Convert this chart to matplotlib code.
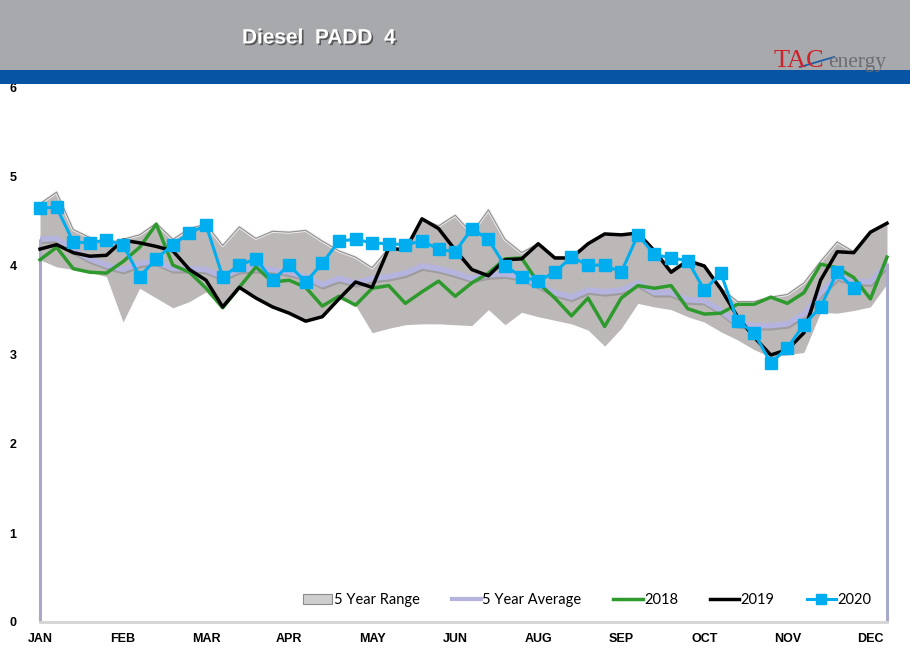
import numpy as np
import matplotlib.pyplot as plt
import matplotlib.patheffects as pe
from matplotlib.patches import Patch, Rectangle
from matplotlib.lines import Line2D

# weekly data, 52 weeks, labels every 5 weeks
month_labels = ['JAN', 'FEB', 'MAR', 'APR', 'MAY', 'JUN', 'AUG', 'SEP', 'OCT', 'NOV', 'DEC']

range_hi = [4.70, 4.83, 4.41, 4.32, 4.25, 4.30, 4.35, 4.48, 4.30, 4.42,
            4.47, 4.23, 4.44, 4.31, 4.39, 4.38, 4.40, 4.28, 4.17, 4.10,
            3.98, 4.20, 4.19, 4.53, 4.45, 4.57, 4.37, 4.63, 4.30, 4.15,
            4.25, 4.10, 4.10, 4.25, 4.36, 4.35, 4.37, 4.18, 3.95, 4.07,
            4.01, 3.75, 3.60, 3.60, 3.65, 3.68, 3.81, 4.05, 4.27, 4.16,
            4.38, 4.48]
range_lo = [4.07, 3.99, 3.96, 3.93, 3.88, 3.37, 3.75, 3.64, 3.53, 3.60,
            3.71, 3.53, 3.76, 3.64, 3.54, 3.47, 3.38, 3.43, 3.63, 3.56,
            3.25, 3.30, 3.34, 3.35, 3.35, 3.34, 3.33, 3.51, 3.34, 3.48,
            3.43, 3.39, 3.35, 3.28, 3.10, 3.30, 3.58, 3.54, 3.51, 3.43,
            3.37, 3.26, 3.17, 3.06, 2.98, 3.00, 3.03, 3.48, 3.47, 3.50,
            3.54, 3.80]
avg5 = [4.30, 4.31, 4.18, 4.08, 4.01, 3.96, 4.03, 4.05, 3.97, 3.97,
        3.96, 3.88, 3.96, 3.97, 3.96, 3.93, 3.88, 3.79, 3.86, 3.81,
        3.86, 3.88, 3.92, 4.00, 3.97, 3.92, 3.86, 3.90, 3.91, 3.88,
        3.79, 3.70, 3.65, 3.73, 3.71, 3.73, 3.81, 3.70, 3.70, 3.62,
        3.61, 3.50, 3.35, 3.33, 3.33, 3.35, 3.46, 3.70, 3.88, 3.83,
        3.82, 4.03]
y2018 = [4.07, 4.21, 3.97, 3.93, 3.92, 4.05, 4.21, 4.47, 4.01, 3.93,
         3.75, 3.53, 3.76, 3.99, 3.82, 3.84, 3.76, 3.55, 3.66, 3.56,
         3.75, 3.78, 3.58, 3.71, 3.83, 3.66, 3.81, 3.92, 4.08, 4.09,
         3.81, 3.64, 3.44, 3.64, 3.32, 3.64, 3.78, 3.75, 3.78, 3.52,
         3.46, 3.47, 3.57, 3.57, 3.65, 3.58, 3.70, 4.02, 3.98, 3.87,
         3.63, 4.10]
y2019 = [4.19, 4.24, 4.15, 4.11, 4.12, 4.29, 4.26, 4.22, 4.17, 3.96,
         3.84, 3.54, 3.76, 3.64, 3.54, 3.47, 3.38, 3.43, 3.63, 3.82,
         3.76, 4.20, 4.18, 4.53, 4.42, 4.18, 3.96, 3.89, 4.07, 4.08,
         4.25, 4.09, 4.09, 4.25, 4.36, 4.35, 4.37, 4.17, 3.93, 4.06,
         4.00, 3.74, 3.43, 3.20, 3.00, 3.06, 3.25, 3.84, 4.16, 4.15,
         4.38, 4.48]
y2020 = [4.65, 4.66, 4.27, 4.26, 4.29, 4.24, 3.88, 4.08, 4.24, 4.37,
         4.46, 3.88, 4.01, 4.08, 3.84, 4.01, 3.82, 4.03, 4.28, 4.30,
         4.26, 4.25, 4.24, 4.28, 4.19, 4.16, 4.42, 4.30, 4.00, 3.88,
         3.83, 3.93, 4.10, 4.01, 4.01, 3.93, 4.35, 4.13, 4.09, 4.06,
         3.73, 3.92, 3.38, 3.25, 2.91, 3.08, 3.34, 3.54, 3.93, 3.75]

x = np.arange(len(range_hi))
x20 = np.arange(len(y2020))

fig = plt.figure(figsize=(9.1, 6.59), dpi=100)
fig.patch.set_facecolor('white')

# header bars
fig.patches.append(Rectangle((0, 1 - 70 / 659), 1, 70 / 659, transform=fig.transFigure,
                             facecolor='#a7a9ac', edgecolor='none', zorder=0))
fig.patches.append(Rectangle((0, 1 - 84 / 659), 1, 14 / 659, transform=fig.transFigure,
                             facecolor='#0654a3', edgecolor='none', zorder=0))
fig.text(319 / 910, 1 - 38 / 659, 'Diesel  PADD  4', color='white', fontsize=15,
         fontweight='bold', family='Liberation Sans', ha='center', va='center',
         path_effects=[pe.withSimplePatchShadow(offset=(1.2, -1.2), shadow_rgbFace='#444444', alpha=0.8)])
fig.text(774 / 910, 1 - 61 / 659, 'TAC', color='#cc2229', fontsize=19, family='Liberation Serif',
         ha='left', va='center')
fig.text(828 / 910, 1 - 63 / 659, 'energy', color='#6d6e71', fontsize=15.5, family='Liberation Serif',
         ha='left', va='center')
fig.lines.append(Line2D([800 / 910, 834 / 910], [1 - 67 / 659, 1 - 57 / 659], transform=fig.transFigure,
                        color='#1f5fa8', lw=1.3))

ax = fig.add_axes([40 / 910, 1 - 622 / 659, 847 / 910, 534 / 659])
ax.set_xlim(0, len(x) - 1)
ax.set_ylim(0, 6)

# 5 year range band
ax.fill_between(x, range_lo, range_hi, color='#bcb8b7', lw=0, zorder=1)
ax.plot(x, range_hi, color='#eeeeee', lw=2.2, zorder=1.1)
ax.plot(x, range_hi, color='#8e8c8c', lw=0.8, zorder=1.2)

# 5 year average
ax.plot(x, avg5, color='#b4b4de', lw=4, zorder=2, solid_joinstyle='round',
        path_effects=[pe.SimpleLineShadow(offset=(0.5, -1.5), shadow_color='#8a8a8a', alpha=0.6), pe.Normal()])
ax.vlines([x[0], x[-1]], 0, [avg5[0], avg5[-1]], color='#a9a9c9', lw=2.2, zorder=2, clip_on=False)

ax.plot(x, y2018, color='#2e9a2e', lw=2.5, zorder=3, clip_on=False)
ax.plot(x, y2019, color='black', lw=2.5, zorder=4, clip_on=False)
ax.plot(x20, y2020, color='#00aeef', lw=2.2, marker='s', markersize=9, zorder=5, clip_on=False)

for s in ['top', 'right', 'left']:
    ax.spines[s].set_visible(False)
ax.spines['bottom'].set_color('#d4d4d4')
ax.spines['bottom'].set_linewidth(2)

ax.set_yticks(range(0, 7))
ax.set_xticks(x[::5])
ax.set_xticklabels(month_labels)
ax.tick_params(length=0)
ax.tick_params(axis='y', pad=17)
ax.tick_params(axis='x', pad=8)
for lab in ax.get_xticklabels() + ax.get_yticklabels():
    lab.set_fontweight('bold')
    lab.set_fontsize(9)
    lab.set_family('Liberation Sans')

handles = [Patch(facecolor='#cfcfcf', edgecolor='#8a8a8a', lw=0.8),
           Line2D([], [], color='#b4b4de', lw=3),
           Line2D([], [], color='#2e9a2e', lw=2.5),
           Line2D([], [], color='black', lw=2.5),
           Line2D([], [], color='#00aeef', lw=2.2, marker='s', markersize=7)]
labels = ['5 Year Range', '5 Year Average', '2018', '2019', '2020']
ax.legend(handles, labels, ncol=5, frameon=False, loc='center',
          bbox_to_anchor=(0.646, 0.041), prop={'family': 'Lato', 'size': 10.5},
          handlelength=2.0, handletextpad=0.1, columnspacing=2.2, handleheight=0.6)

fig.savefig('out.png', dpi=100)
